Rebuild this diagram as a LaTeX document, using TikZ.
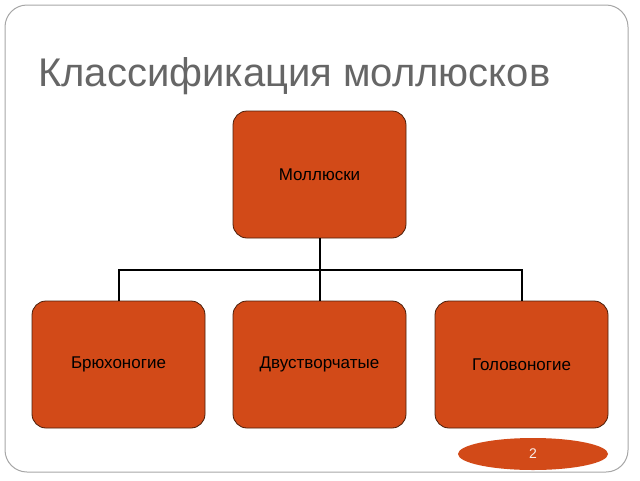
\documentclass[tikz,border=0pt]{standalone}
\usepackage{fontspec}
\setmainfont{Liberation Sans}
\usetikzlibrary{positioning,shapes.geometric}
\definecolor{shell}{HTML}{D24A18}
\definecolor{shelledge}{HTML}{4A1E0A}
\definecolor{titlegray}{HTML}{666666}
\tikzset{Taxon/.style={rectangle, rounded corners=14pt, fill=shell, draw=shelledge, line width=0.8pt, minimum width=173pt, minimum height=127pt, font=\fontsize{17pt}{20pt}\selectfont}}

\begin{document}
\begin{tikzpicture}[x=1pt,y=-1pt]
    \useasboundingbox (0,0) rectangle (640,480);
    \draw[gray!70, line width=1pt, rounded corners=22pt] (5,5) rectangle (628,472);
    \node[anchor=base west, inner sep=0pt, text=titlegray, font=\fontsize{40pt}{46pt}\selectfont] (title) at (38,86) {Классификация моллюсков};

    \path
    (319.5,174.5) node[Taxon] (mollusca) {Моллюски}
    (118.5,364.5) node[Taxon] (gastro) {Брюхоногие}
    (319.5,364.5) node[Taxon] (bivalve) {Двустворчатые}
    (521.5,364.5) node[Taxon] (cephalo) {Головоногие};

    \coordinate (fork) at (319.5,270);
    \draw[line width=2pt] (mollusca) -- (fork);
    \draw[line width=2pt] (fork) -| (gastro.north);
    \draw[line width=2pt] (fork) -| (cephalo.north);
    \draw[line width=2pt] (fork) -- (bivalve);

    \node[ellipse, fill=shell, minimum width=150pt, minimum height=32pt, text=white!90!shell, font=\fontsize{14pt}{16pt}\selectfont] (page) at (533,454) {2};
\end{tikzpicture}
\end{document}
